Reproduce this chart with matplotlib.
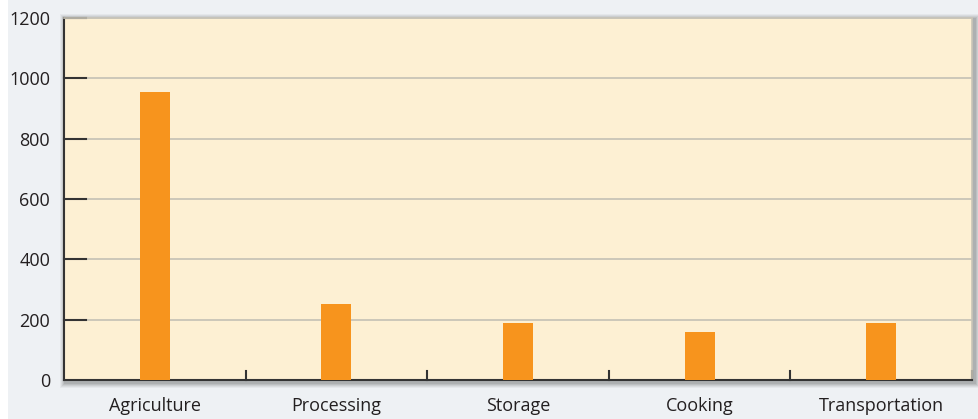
import numpy as np
import matplotlib.pyplot as plt
from matplotlib.patches import Rectangle

# Datos
categorias = ['Agriculture', 'Processing', 'Storage', 'Cooking', 'Transportation']
valores = [955, 252, 190, 160, 190]
yticks = [0, 200, 400, 600, 800, 1000, 1200]

plt.rcParams['font.family'] = ['Open Sans', 'DejaVu Sans']

W, H = 979, 419
fig = plt.figure(figsize=(W / 100, H / 100), dpi=100)
fig.patch.set_facecolor('#eef1f4')
# franja blanca a la izquierda
fig.patches.append(Rectangle((0, 0), 8 / W, 1, transform=fig.transFigure,
                             facecolor='white', edgecolor='none', zorder=0))

left, right, top, bottom = 64, 972, 18, 380
ax = fig.add_axes([left / W, 1 - bottom / H, (right - left) / W, (bottom - top) / H])
ax.set_zorder(5)

# sombra del área del gráfico
for i, a in enumerate([0.04, 0.05, 0.06, 0.07, 0.08]):
    d = 6 - i
    fig.patches.append(Rectangle(((left - d + 2) / W, 1 - (bottom + d + 2) / H),
                                 (right - left + 2 * d) / W, (bottom - top + 2 * d) / H,
                                 transform=fig.transFigure, facecolor='black',
                                 edgecolor='none', alpha=a, zorder=0))

ax.set_facecolor('#fdf0d3')
x = np.arange(len(categorias))
ax.bar(x, valores, width=0.165, color='#f7941d', zorder=3)

ax.set_xlim(-0.5, len(categorias) - 0.5)
ax.set_ylim(0, 1200)
ax.set_yticks(yticks)
ax.set_yticklabels([str(v) for v in yticks], fontsize=13, color='#231f20')
for v in yticks[1:]:
    ax.axhline(v, color='#c4c0b4', linewidth=1.2, zorder=1)
    ax.plot([-0.5, -0.5 + 22 / 181.6], [v, v], color='#333333', linewidth=1.5,
            zorder=2, clip_on=False)
ax.tick_params(axis='y', length=0, pad=10)

ax.set_xticks(x)
ax.set_xticklabels(categorias, fontsize=13, color='#231f20')
ax.tick_params(axis='x', length=0, pad=12)
for b in np.arange(0.5, len(categorias), 1.0):
    ax.plot([b, b], [0, 30], color='#333333', linewidth=1.5, zorder=2, clip_on=False)

for s in ['left', 'bottom']:
    ax.spines[s].set_color('#333333')
    ax.spines[s].set_linewidth(1.5)
for s in ['right', 'top']:
    ax.spines[s].set_color('#c9c5b8')
    ax.spines[s].set_linewidth(1.2)

plt.savefig('out.png', dpi=100, facecolor=fig.get_facecolor())
